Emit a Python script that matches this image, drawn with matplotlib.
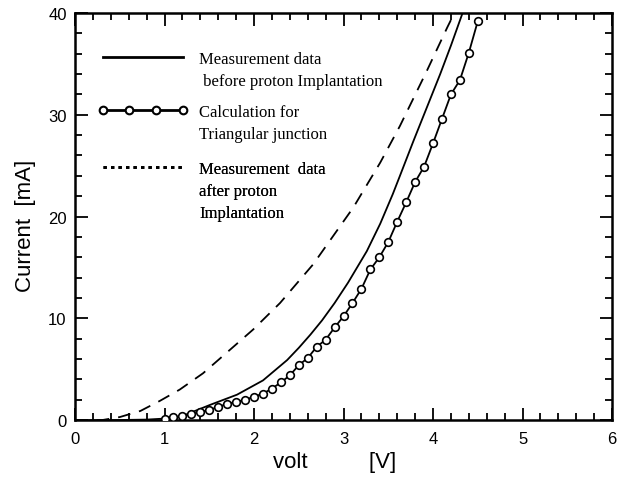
import matplotlib
matplotlib.use("Agg")
import matplotlib.pyplot as plt
from matplotlib.lines import Line2D
from matplotlib.ticker import MultipleLocator

# measured I-V before proton implantation (solid)
v_before = [0.0, 0.4, 0.8, 1.0, 1.17, 1.51, 1.81, 2.10, 2.37, 2.50, 2.63, 2.76,
            2.90, 3.05, 3.26, 3.41, 3.55, 3.63, 3.78, 3.93, 4.08, 4.20, 4.33]
i_before = [0.0, 0.0, 0.05, 0.15, 0.3, 1.5, 2.5, 3.9, 5.9, 7.1, 8.4, 9.8,
            11.5, 13.5, 16.6, 19.3, 22.2, 24.0, 27.4, 30.7, 34.0, 36.8, 40.0]

# measured I-V after proton implantation (dashed)
v_after = [0.0, 0.3, 0.5, 0.73, 0.95, 1.17, 1.43, 1.73, 1.99, 2.29, 2.66, 3.11,
           3.41, 3.63, 3.93, 4.16, 4.25]
i_after = [0.0, 0.0, 0.3, 0.9, 1.9, 3.0, 4.6, 6.9, 8.9, 11.5, 15.3, 20.9,
           25.3, 28.9, 34.3, 38.6, 40.2]

# calculation for triangular junction (circles)
v_calc = [1.0, 1.1, 1.2, 1.3, 1.4, 1.5, 1.6, 1.7, 1.8, 1.9, 2.0, 2.1, 2.2, 2.3,
          2.4, 2.5, 2.6, 2.7, 2.8, 2.9, 3.0, 3.1, 3.2, 3.3, 3.4, 3.5, 3.6, 3.7,
          3.8, 3.9, 4.0, 4.1, 4.2, 4.3, 4.4, 4.5]
i_calc = [0.1, 0.3, 0.4, 0.6, 0.8, 1.0, 1.3, 1.6, 1.8, 2.0, 2.3, 2.6, 3.1, 3.7,
          4.4, 5.4, 6.1, 7.2, 7.9, 9.1, 10.2, 11.5, 12.9, 14.8, 16.0, 17.5, 19.5,
          21.4, 23.4, 24.9, 27.2, 29.6, 32.0, 33.4, 36.1, 39.2]

legend_groups = [
    ["Measurement data", " before proton Implantation"],
    ["Calculation for", "Triangular junction"],
    ["Measurement  data", "after proton", "Implantation"],
]

plt.rcParams['font.family'] = ['Liberation Sans', 'DejaVu Sans']

fig = plt.figure(figsize=(6.17, 4.81), dpi=100)
ax = fig.add_axes([0.1216, 0.1245, 0.8704, 0.8465])

ax.plot(v_before, i_before, color='black', lw=1.3, zorder=3)
ax.plot(v_after, i_after, color='black', lw=1.3, dashes=(7, 5), zorder=3)
ax.plot(v_calc, i_calc, color='black', lw=1.3, marker='o', ms=5.5,
        mfc='white', mec='black', mew=1.2, zorder=4)

ax.set_xlim(0, 6)
ax.set_ylim(0, 40)
ax.xaxis.set_major_locator(MultipleLocator(1))
ax.xaxis.set_minor_locator(MultipleLocator(0.2))
ax.yaxis.set_major_locator(MultipleLocator(10))
ax.yaxis.set_minor_locator(MultipleLocator(2))
ax.tick_params(which='both', direction='in', top=True, right=True, width=1.3)
ax.tick_params(which='major', length=9, labelsize=12)
ax.tick_params(axis='x', which='major', pad=8)
ax.tick_params(axis='y', which='major', pad=6)
ax.tick_params(which='minor', length=5)
for s in ax.spines.values():
    s.set_linewidth(1.8)

ax.set_xlabel("volt          [V]", fontsize=16)
ax.set_ylabel("Current  [mA]", fontsize=16)
ax.xaxis.set_label_coords(0.484, -0.077)
ax.yaxis.set_label_coords(-0.072, 0.48)

# legend: three groups, handle on the first line of each group
blank = Line2D([], [], color='none')
handles = [
    Line2D([], [], color='black', lw=2),
    Line2D([], [], color='black', lw=2, marker='o', ms=5.5, mfc='white',
           mec='black', mew=1.5),
    Line2D([], [], color='black', lw=2, linestyle=(0, (1.2, 1.5))),
]
anchors = [(0.042, 0.906), (0.042, 0.777), (0.042, 0.636)]
for h, labels, anc in zip(handles, legend_groups, anchors):
    hs = [h] + [blank] * (len(labels) - 1)
    leg = ax.legend(hs, labels, loc='upper left', bbox_to_anchor=anc,
                    frameon=False, handlelength=5.4, handletextpad=0.7,
                    labelspacing=0.35, borderaxespad=0, borderpad=0,
                    numpoints=4,
                    prop={'family': 'Liberation Serif', 'size': 12})
    ax.add_artist(leg)

fig.savefig("out.png", dpi=100)
